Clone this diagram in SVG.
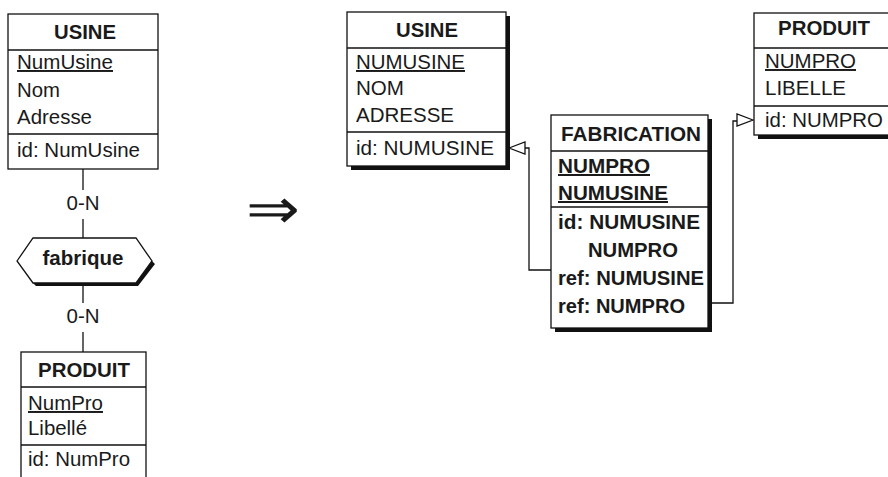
<svg xmlns="http://www.w3.org/2000/svg" width="888" height="477" viewBox="0 0 888 477">
<style>
  .box{fill:#fff;stroke:#111;stroke-width:1.3}
  .sep{stroke:#111;stroke-width:1.3}
  .sh{fill:#111}
  .ln{fill:none;stroke:#111;stroke-width:1.3}
  .tri{fill:#fff;stroke:#111;stroke-width:1.3}
  text{font-family:"Liberation Sans",Arial,sans-serif;fill:#1a1a1a}
  .t{font-weight:bold;font-size:20px;text-anchor:middle}
  .a{font-size:19.5px}
  .b{font-weight:bold;font-size:20px}
  .u{text-decoration:underline}
</style>
<rect width="888" height="477" fill="#fff"/>

<g id="connectors">
  <line class="ln" x1="83" y1="169" x2="83" y2="190"/>
  <line class="ln" x1="83" y1="219" x2="83" y2="238"/>
  <line class="ln" x1="83" y1="283" x2="83" y2="303"/>
  <line class="ln" x1="83" y1="332" x2="83" y2="352"/>
  <text class="a" x="83" y="210" text-anchor="middle" textLength="33" lengthAdjust="spacingAndGlyphs">0-N</text>
  <text class="a" x="83" y="323" text-anchor="middle" textLength="33" lengthAdjust="spacingAndGlyphs">0-N</text>
  <path class="ln" d="M525,148 H529 V270 H551"/>
  <polygon class="tri" points="509,148 525,142 525,154"/>
  <path class="ln" d="M708,303 H733 V121 H737"/>
  <polygon class="tri" points="753,120 737,114 737,126"/>
</g>

<g id="usine_left">
  <rect class="box" x="8" y="14" width="150" height="155"/>
  <line class="sep" x1="8" y1="50" x2="158" y2="50"/>
  <line class="sep" x1="8" y1="134" x2="158" y2="134"/>
  <text class="t" x="85" y="39" textLength="62" lengthAdjust="spacingAndGlyphs">USINE</text>
  <text class="a u" x="17" y="69" textLength="96" lengthAdjust="spacingAndGlyphs">NumUsine</text>
  <text class="a" x="17" y="97" textLength="43" lengthAdjust="spacingAndGlyphs">Nom</text>
  <text class="a" x="17" y="124" textLength="75" lengthAdjust="spacingAndGlyphs">Adresse</text>
  <text class="a" x="17" y="157" textLength="123" lengthAdjust="spacingAndGlyphs">id: NumUsine</text>
</g>

<g id="fabrique">
  <polygon class="sh" points="152,261 155,264 138,286 36,286 33,283 136,283"/>
  <polygon class="box" points="17,261 33,238 136,238 152,261 136,283 33,283"/>
  <text class="t" x="83" y="265" textLength="81" lengthAdjust="spacingAndGlyphs">fabrique</text>
</g>

<g id="produit_left">
  <rect class="box" x="21" y="352" width="125" height="140"/>
  <line class="sep" x1="21" y1="387" x2="146" y2="387"/>
  <line class="sep" x1="21" y1="445" x2="146" y2="445"/>
  <text class="t" x="84" y="377" textLength="92" lengthAdjust="spacingAndGlyphs">PRODUIT</text>
  <text class="a u" x="28" y="410" textLength="75" lengthAdjust="spacingAndGlyphs">NumPro</text>
  <text class="a" x="28" y="435" textLength="59" lengthAdjust="spacingAndGlyphs">Libellé</text>
  <text class="a" x="28" y="466" textLength="102" lengthAdjust="spacingAndGlyphs">id: NumPro</text>
</g>

<text id="implies" x="246" y="228" font-family="'Noto Sans CJK JP', 'DejaVu Sans', sans-serif" font-weight="300" font-size="56" textLength="54" lengthAdjust="spacingAndGlyphs">⇒</text>

<g id="usine_right">
  <rect class="sh" x="351" y="16" width="159" height="154"/>
  <rect class="box" x="347" y="12" width="159" height="154"/>
  <line class="sep" x1="347" y1="48" x2="506" y2="48"/>
  <line class="sep" x1="347" y1="132" x2="506" y2="132"/>
  <text class="t" x="427" y="37" textLength="62" lengthAdjust="spacingAndGlyphs">USINE</text>
  <text class="a u" x="356" y="69" textLength="109" lengthAdjust="spacingAndGlyphs">NUMUSINE</text>
  <text class="a" x="356" y="95" textLength="48" lengthAdjust="spacingAndGlyphs">NOM</text>
  <text class="a" x="356" y="122" textLength="98" lengthAdjust="spacingAndGlyphs">ADRESSE</text>
  <text class="a" x="356" y="155" textLength="138" lengthAdjust="spacingAndGlyphs">id: NUMUSINE</text>
</g>

<g id="fabrication">
  <rect class="sh" x="555" y="119" width="157" height="213"/>
  <rect class="box" x="551" y="115" width="157" height="213"/>
  <line class="sep" x1="551" y1="151" x2="708" y2="151"/>
  <line class="sep" x1="551" y1="207" x2="708" y2="207"/>
  <text class="t" x="631" y="141" textLength="140" lengthAdjust="spacingAndGlyphs">FABRICATION</text>
  <text class="b u" x="558" y="173" textLength="92" lengthAdjust="spacingAndGlyphs">NUMPRO</text>
  <text class="b u" x="558" y="200" textLength="110" lengthAdjust="spacingAndGlyphs">NUMUSINE</text>
  <text class="b" x="558" y="229" textLength="142" lengthAdjust="spacingAndGlyphs">id: NUMUSINE</text>
  <text class="b" x="588" y="257" textLength="90" lengthAdjust="spacingAndGlyphs">NUMPRO</text>
  <text class="b" x="558" y="285" textLength="146" lengthAdjust="spacingAndGlyphs">ref: NUMUSINE</text>
  <text class="b" x="558" y="313" textLength="127" lengthAdjust="spacingAndGlyphs">ref: NUMPRO</text>
</g>

<g id="produit_right">
  <rect class="sh" x="758" y="17" width="150" height="122"/>
  <rect class="box" x="754" y="13" width="150" height="122"/>
  <line class="sep" x1="754" y1="48" x2="904" y2="48"/>
  <line class="sep" x1="754" y1="106" x2="904" y2="106"/>
  <text class="t" x="824" y="35" textLength="92" lengthAdjust="spacingAndGlyphs">PRODUIT</text>
  <text class="a u" x="765" y="68" textLength="91" lengthAdjust="spacingAndGlyphs">NUMPRO</text>
  <text class="a" x="765" y="95" textLength="81" lengthAdjust="spacingAndGlyphs">LIBELLE</text>
  <text class="a" x="765" y="127" textLength="118" lengthAdjust="spacingAndGlyphs">id: NUMPRO</text>
</g>
</svg>
